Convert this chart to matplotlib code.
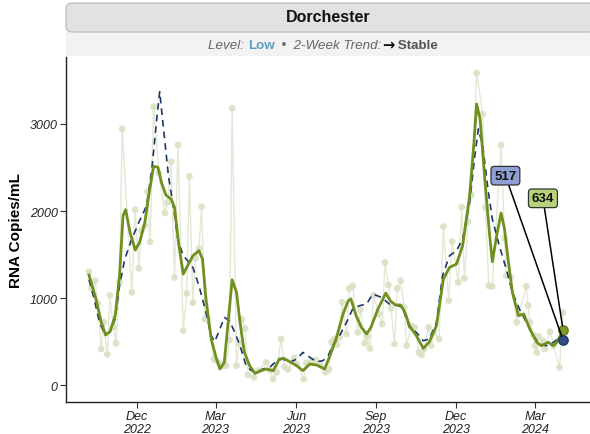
import matplotlib
matplotlib.use("Agg")
import matplotlib.pyplot as plt
import matplotlib.dates as mdates
from matplotlib.patches import FancyBboxPatch, Rectangle
from matplotlib.text import Annotation
import pandas as pd

plt.rcParams['font.family'] = ['Liberation Sans', 'DejaVu Sans']

# ---------------- data ----------------
raw_dates = ["2022-10-07", "2022-10-10", "2022-10-14", "2022-10-17", "2022-10-21", "2022-10-24",
             "2022-10-28", "2022-10-31", "2022-11-04", "2022-11-07", "2022-11-11", "2022-11-14",
             "2022-11-25", "2022-11-29", "2022-12-03", "2022-12-06", "2022-12-10", "2022-12-13",
             "2022-12-16", "2022-12-20", "2022-12-26", "2023-01-02", "2023-01-05", "2023-01-09",
             "2023-01-13", "2023-01-17", "2023-01-23", "2023-01-27", "2023-01-30", "2023-02-03",
             "2023-02-06", "2023-02-10", "2023-02-13", "2023-02-17", "2023-02-20", "2023-02-27",
             "2023-03-02", "2023-03-06", "2023-03-10", "2023-03-13", "2023-03-17", "2023-03-20",
             "2023-03-25", "2023-03-28", "2023-03-31", "2023-04-04", "2023-04-07", "2023-04-14",
             "2023-04-19", "2023-04-28", "2023-05-02", "2023-05-06", "2023-05-10", "2023-05-15",
             "2023-05-19", "2023-05-23", "2023-05-30", "2023-06-02", "2023-06-10", "2023-06-13",
             "2023-06-18", "2023-06-24", "2023-06-29", "2023-07-05", "2023-07-09", "2023-07-12",
             "2023-07-15", "2023-07-18", "2023-07-21", "2023-07-24", "2023-07-29", "2023-08-01",
             "2023-08-05", "2023-08-11", "2023-08-14", "2023-08-19", "2023-08-22", "2023-08-25",
             "2023-08-29", "2023-09-04", "2023-09-08", "2023-09-11", "2023-09-15", "2023-09-18",
             "2023-09-22", "2023-09-25", "2023-09-29", "2023-10-03", "2023-10-06", "2023-10-11",
             "2023-10-15", "2023-10-20", "2023-10-23", "2023-10-26", "2023-10-31", "2023-11-03",
             "2023-11-06", "2023-11-12", "2023-11-17", "2023-11-23", "2023-11-27", "2023-12-04",
             "2023-12-08", "2023-12-11", "2023-12-15", "2023-12-19", "2023-12-25", "2024-01-01",
             "2024-01-04", "2024-01-08", "2024-01-12", "2024-01-22", "2024-01-26", "2024-01-28",
             "2024-02-02", "2024-02-09", "2024-02-11", "2024-02-20", "2024-02-22", "2024-02-24",
             "2024-02-28", "2024-03-01", "2024-03-03", "2024-03-05", "2024-03-10", "2024-03-12",
             "2024-03-18", "2024-03-22", "2024-03-29", "2024-04-02"]
raw_values = [1302, 1111, 1199, 939, 414, 720,
              352, 1031, 663, 479, 1187, 2943,
              1065, 2015, 1341, 1774, 1831, 2222,
              1647, 3199, 2437, 1977, 2100, 2567,
              1237, 2758, 624, 1054, 2398, 946,
              1456, 1567, 2050, 759, 759, 299,
              280, 249, 222, 222, 517, 3180,
              222, 479, 759, 651, 115, 88,
              165, 260, 172, 69, 146, 529,
              210, 180, 310, 241, 69, 253,
              270, 287, 230, 146, 176, 491,
              529, 463, 548, 950, 586, 1111,
              1141, 605, 862, 479, 559, 421,
              1031, 816, 701, 1410, 1149, 882,
              471, 1111, 1199, 893, 452, 682,
              663, 375, 345, 414, 663, 452,
              605, 529, 1820, 969, 1647, 1180,
              2045, 1226, 1875, 2184, 3586, 3115,
              2041, 1141, 1134, 2758, 1686, 1257,
              1237, 720, 816, 1134, 912, 720,
              575, 452, 375, 559, 509, 414,
              613, 452, 203, 835]

smooth_dates = ["2022-10-07", "2022-10-15", "2022-10-21", "2022-10-26", "2022-10-31", "2022-11-06",
                "2022-11-11", "2022-11-15", "2022-11-18", "2022-11-23", "2022-11-29", "2022-12-04",
                "2022-12-10", "2022-12-15", "2022-12-20", "2022-12-25", "2022-12-29", "2023-01-03",
                "2023-01-09", "2023-01-13", "2023-01-18", "2023-01-23", "2023-01-28", "2023-02-03",
                "2023-02-10", "2023-02-14", "2023-02-18", "2023-02-24", "2023-03-02", "2023-03-06",
                "2023-03-11", "2023-03-15", "2023-03-20", "2023-03-25", "2023-03-29", "2023-04-03",
                "2023-04-09", "2023-04-15", "2023-04-22", "2023-04-28", "2023-05-06", "2023-05-13",
                "2023-05-18", "2023-05-25", "2023-06-02", "2023-06-09", "2023-06-17", "2023-06-25",
                "2023-07-04", "2023-07-10", "2023-07-17", "2023-07-25", "2023-07-31", "2023-08-03",
                "2023-08-09", "2023-08-15", "2023-08-21", "2023-08-26", "2023-09-03", "2023-09-12",
                "2023-09-17", "2023-09-23", "2023-09-29", "2023-10-04", "2023-10-09", "2023-10-17",
                "2023-10-25", "2023-11-01", "2023-11-09", "2023-11-17", "2023-11-24", "2023-12-02",
                "2023-12-09", "2023-12-17", "2023-12-22", "2023-12-25", "2023-12-29", "2024-01-04",
                "2024-01-09", "2024-01-12", "2024-01-17", "2024-01-22", "2024-01-26", "2024-01-30",
                "2024-02-04", "2024-02-11", "2024-02-17", "2024-02-24", "2024-03-03", "2024-03-08",
                "2024-03-16", "2024-03-22", "2024-03-26", "2024-04-02"]
smooth_values = [1264, 989, 724, 575, 613, 797,
                 1257, 1946, 2015, 1754, 1552, 1640,
                 1870, 2215, 2514, 2502, 2329, 2184,
                 2138, 2041, 1601, 1276, 1371, 1486,
                 1544, 1448, 989, 529, 299, 184,
                 261, 682, 1210, 1065, 720, 375,
                 222, 134, 165, 184, 165, 299,
                 307, 268, 222, 165, 241, 230,
                 184, 337, 529, 816, 969, 989,
                 797, 663, 586, 663, 874, 1057,
                 969, 920, 920, 835, 682, 567,
                 421, 498, 682, 1218, 1352, 1391,
                 1601, 2175, 2789, 3230, 3057, 2291,
                 1716, 1417, 1716, 1977, 1793, 1448,
                 1065, 797, 816, 644, 491, 452,
                 491, 452, 491, 634]

avg_dates = ["2022-10-07", "2022-10-13", "2022-10-19", "2022-10-25", "2022-10-31", "2022-11-06",
             "2022-11-11", "2022-11-17", "2022-11-25", "2022-12-04", "2022-12-12", "2022-12-18",
             "2022-12-24", "2022-12-27", "2022-12-31", "2023-01-06", "2023-01-12", "2023-01-17",
             "2023-01-23", "2023-01-28", "2023-02-03", "2023-02-10", "2023-02-18", "2023-02-24",
             "2023-02-28", "2023-03-06", "2023-03-11", "2023-03-17", "2023-03-23", "2023-03-29",
             "2023-04-05", "2023-04-11", "2023-04-17", "2023-04-24", "2023-05-02", "2023-05-10",
             "2023-05-17", "2023-05-25", "2023-06-02", "2023-06-09", "2023-06-17", "2023-06-25",
             "2023-07-02", "2023-07-08", "2023-07-13", "2023-07-21", "2023-07-29", "2023-08-05",
             "2023-08-13", "2023-08-21", "2023-08-28", "2023-09-07", "2023-09-16", "2023-09-26",
             "2023-10-01", "2023-10-09", "2023-10-17", "2023-10-25", "2023-11-01", "2023-11-09",
             "2023-11-16", "2023-11-24", "2023-12-02", "2023-12-09", "2023-12-17", "2023-12-23",
             "2023-12-27", "2024-01-01", "2024-01-07", "2024-01-12", "2024-01-20", "2024-01-28",
             "2024-02-04", "2024-02-12", "2024-02-20", "2024-02-28", "2024-03-06", "2024-03-14",
             "2024-03-22", "2024-03-27", "2024-04-02"]
avg_values = [1210, 989, 720, 586, 605, 759,
              1141, 1448, 1678, 1889, 2061, 2483,
              3096, 3372, 2981, 2406, 2023, 1659,
              1486, 1429, 1352, 1141, 835, 567,
              498, 644, 778, 739, 605, 452,
              222, 165, 146, 184, 203, 280,
              299, 261, 299, 375, 318, 268,
              280, 337, 452, 567, 720, 874,
              912, 931, 1046, 1008, 931, 912,
              893, 663, 605, 509, 529, 720,
              1257, 1486, 1544, 1678, 2098, 2636,
              2943, 2751, 2253, 1908, 1601, 1333,
              1065, 874, 720, 567, 471, 452,
              491, 529, 517]

last_avg = 517
last_smooth = 634

tick_dates = ["2022-12-01", "2023-03-01", "2023-06-01", "2023-09-01", "2023-12-01", "2024-03-01"]
tick_labels = ["Dec\n2022", "Mar\n2023", "Jun\n2023", "Sep\n2023", "Dec\n2023", "Mar\n2024"]
y_ticks = [0, 1000, 2000, 3000]

site = "Dorchester"
level = "Low"
trend = "Stable"

# ---------------- figure ----------------
W, H = 590, 435
fig = plt.figure(figsize=(W / 100, H / 100), dpi=100)
ax = fig.add_axes([66 / W, 1 - 403 / H, (W - 66) / W, (403 - 58) / H])

rd = pd.to_datetime(raw_dates)
sd = pd.to_datetime(smooth_dates)
ad = pd.to_datetime(avg_dates)

ax.plot(rd, raw_values, color='#e4e8d4', lw=1.0, zorder=1)
ax.scatter(rd, raw_values, s=24, color='#dae1c3', edgecolors='none', alpha=0.9, zorder=2)
ax.plot(ad, avg_values, color='#1c3768', lw=1.2, ls=(0, (4, 3)), zorder=3)
ax.plot(sd, smooth_values, color='#6f8f1e', lw=2.0, zorder=4)

last_date = sd[-1]
ax.scatter([last_date], [last_smooth], s=45, color='#7a9a2a', edgecolors='#5c7a18', zorder=6)
ax.scatter([last_date], [last_avg], s=45, color='#2f4d80', edgecolors='#1c3768', zorder=6)

ax.annotate(str(last_avg), xy=(last_date, last_avg), xytext=(pd.Timestamp("2024-01-27"), 2406),
            ha='center', va='center', fontsize=9.5, fontweight='bold', color='#111111',
            bbox=dict(boxstyle='round,pad=0.25,rounding_size=0.25', fc='#8e9fd4', ec='#333333', lw=0.9),
            arrowprops=dict(arrowstyle='-', color='black', lw=1.1, shrinkA=0, shrinkB=3), zorder=7)
ax.annotate(str(last_smooth), xy=(last_date, last_smooth), xytext=(pd.Timestamp("2024-03-10"), 2146),
            ha='center', va='center', fontsize=9.5, fontweight='bold', color='#111111',
            bbox=dict(boxstyle='round,pad=0.25,rounding_size=0.25', fc='#b8d27a', ec='#333333', lw=0.9),
            arrowprops=dict(arrowstyle='-', color='black', lw=1.1, shrinkA=0, shrinkB=3), zorder=7)

base = mdates.date2num(pd.Timestamp("2022-12-01"))
ax.set_xlim(base + (66 - 137) / 0.873, base + (W - 137) / 0.873)
ax.set_ylim(-195, 3770)

ax.set_xticks(pd.to_datetime(tick_dates))
ax.set_xticklabels(tick_labels, fontsize=9, fontstyle='italic', color='#222222', linespacing=1.05)
ax.set_yticks(y_ticks)
ax.set_yticklabels([str(v) for v in y_ticks], fontsize=9, fontstyle='italic', color='#222222')
ax.tick_params(axis='both', length=4, width=0.8, color='#333333', pad=2)
ax.spines['top'].set_visible(False)
ax.spines['right'].set_visible(False)
ax.spines['left'].set_linewidth(1.0)
ax.spines['bottom'].set_linewidth(1.0)
ax.spines['left'].set_color('#222222')
ax.spines['bottom'].set_color('#222222')
ax.set_ylabel("RNA Copies/mL", fontsize=11, fontweight='bold')
ax.yaxis.set_label_coords(-0.082, 0.5)

# strip header
fig.patches.append(Rectangle((66 / W, 1 - 57 / H), 1, 24 / H, transform=fig.transFigure,
                             fc='#f2f2f2', ec='none', zorder=-1))
fig.patches.append(FancyBboxPatch((66 / W, 1 - 33 / H), (W - 60) / W, 29 / H,
                                  boxstyle='round,pad=0,rounding_size=0.012', transform=fig.transFigure,
                                  fc='#e2e2e2', ec='#bdbdbd', lw=0.9, zorder=-1))
fig.text(328 / W, 1 - 18 / H, site, ha='center', va='center', fontsize=11.5, fontweight='bold',
         color='#111111', zorder=5)

sub_y = 1 - 52 / H
t1 = fig.text(208 / W, sub_y, "Level: ", ha='left', va='bottom', fontsize=9.6, fontstyle='italic',
              color='#666666', zorder=5)


def chain(prev, s, **kw):
    a = Annotation(s, xy=(1, 0), xycoords=prev, ha='left', va='bottom', annotation_clip=False, **kw)
    a.set_zorder(5)
    fig.add_artist(a)
    return a


t2 = chain(t1, level, fontsize=9.6, fontweight='bold', color='#5a9fc2')
t3 = chain(t2, "  \u2022  2-Week Trend:", fontsize=9.6, fontstyle='italic', color='#666666')
t4 = chain(t3, "\u2192", fontsize=10.5, fontweight='bold', color='#111111', family=['DejaVu Sans'])
t5 = chain(t4, " " + trend, fontsize=9.6, fontweight='bold', color='#555555')

fig.savefig("out.png", dpi=100)
